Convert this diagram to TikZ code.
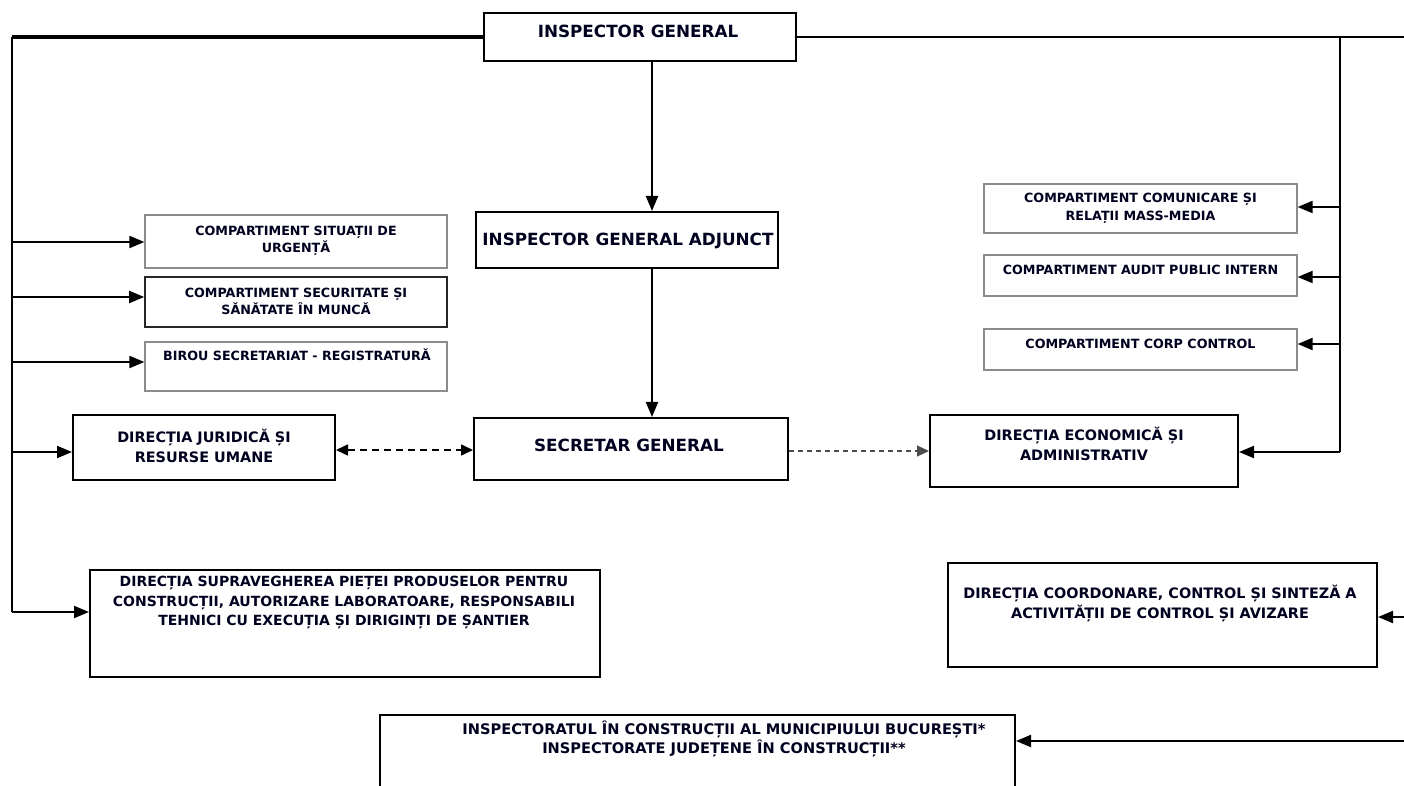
\documentclass[tikz,border=0pt]{standalone}
\usepackage{fontspec}
\setmainfont{DejaVu Sans}
\usetikzlibrary{arrows.meta}
\tikzset{
  bigbox/.style={draw=black, line width=1pt, fill=white, inner sep=0pt},
  midbox/.style={draw=black!85, line width=0.8pt, fill=white, inner sep=0pt},
  thinbox/.style={draw=black!45, line width=0.6pt, fill=white, inner sep=0pt},
  bigtxt/.style={font=\bfseries\fontsize{8.4}{10}\selectfont, text=black!88!blue, align=center, inner sep=0pt},
  midtxt/.style={font=\bfseries\fontsize{7.2}{10}\selectfont, text=black!88!blue, align=center, inner sep=0pt},
  suptxt/.style={font=\bfseries\fontsize{7.0}{9.75}\selectfont, text=black!88!blue, align=center, inner sep=0pt},
  smalltxt/.style={font=\bfseries\fontsize{6.35}{8.8}\selectfont, text=black!88!blue, align=center, inner sep=0pt},
  instxt/.style={font=\bfseries\fontsize{7.3}{9.5}\selectfont, text=black!88!blue, align=center, inner sep=0pt},
  conn/.style={line width=1pt, black},
  arr/.style={conn, -{Triangle[length=7.5pt,width=6pt]}},
  dasharr/.style={line width=0.8pt, black, dash pattern=on 3.5pt off 2.5pt, {Triangle[length=6pt,width=5.5pt]}-{Triangle[length=6pt,width=5.5pt]}},
  dotarr/.style={line width=0.6pt, black!70, dash pattern=on 2.5pt off 2pt, -{Triangle[length=6pt,width=5.5pt]}},
}
\begin{document}
\begin{tikzpicture}[x=0.5pt,y=-0.5pt]
\useasboundingbox (0,0) rectangle (1404,786);
\clip (0,0) rectangle (1404,786);
% boxes
\node[bigbox, minimum width=156pt, minimum height=24pt] (ig) at (640,37) {};
\node[bigtxt] (igt) at (638,31) {INSPECTOR GENERAL};
\node[bigbox, minimum width=151pt, minimum height=28pt] (iga) at (627,240) {};
\node[bigtxt] (igat) at (628,241) {INSPECTOR GENERAL ADJUNCT};
\node[bigbox, minimum width=157pt, minimum height=31pt] (sg) at (631,449) {};
\node[bigtxt] (sgt) at (629,445) {SECRETAR GENERAL};
\node[bigbox, minimum width=131pt, minimum height=32.5pt] (jur) at (204,447.5) {};
\node[midtxt] (jurt) at (204,446) {DIRECȚIA JURIDICĂ ȘI\\RESURSE UMANE};
\node[bigbox, minimum width=154pt, minimum height=36pt] (eco) at (1084,451) {};
\node[midtxt] (ecot) at (1084,443.5) {DIRECȚIA ECONOMICĂ ȘI\\ADMINISTRATIV};
\node[thinbox, minimum width=151pt, minimum height=26.5pt] (sit) at (296,241.5) {};
\node[smalltxt] (sitt) at (296,241) {COMPARTIMENT SITUAȚII DE\\URGENȚĂ};
\node[midbox, minimum width=151pt, minimum height=25pt] (sec) at (296,302) {};
\node[smalltxt] (sect) at (296,301.5) {COMPARTIMENT SECURITATE ȘI\\SĂNĂTATE ÎN MUNCĂ};
\node[thinbox, minimum width=151pt, minimum height=24.5pt] (bir) at (296,366.5) {};
\node[smalltxt] (birt) at (297,355) {BIROU SECRETARIAT - REGISTRATURĂ};
\node[thinbox, minimum width=156.5pt, minimum height=24.5pt] (com) at (1140.5,208.5) {};
\node[smalltxt] (comt) at (1140.5,208.5) {COMPARTIMENT COMUNICARE ȘI\\RELAȚII MASS-MEDIA};
\node[thinbox, minimum width=156.5pt, minimum height=20.5pt] (aud) at (1140.5,275.5) {};
\node[smalltxt] (audt) at (1140.5,270) {COMPARTIMENT AUDIT PUBLIC INTERN};
\node[thinbox, minimum width=156.5pt, minimum height=20.5pt] (cor) at (1140.5,349.5) {};
\node[smalltxt] (cort) at (1140.5,344) {COMPARTIMENT CORP CONTROL};
\node[bigbox, minimum width=255pt, minimum height=53.5pt] (sup) at (345,623.5) {};
\node[suptxt] (supt) at (344,602.5) {DIRECȚIA SUPRAVEGHEREA PIEȚEI PRODUSELOR PENTRU\\CONSTRUCȚII, AUTORIZARE LABORATOARE, RESPONSABILI\\TEHNICI CU EXECUȚIA ȘI DIRIGINȚI DE ȘANTIER};
\node[bigbox, minimum width=214.5pt, minimum height=52pt] (coo) at (1162.5,615) {};
\node[midtxt] (coot) at (1160,603) {DIRECȚIA COORDONARE, CONTROL ȘI SINTEZĂ A\\ACTIVITĂȚII DE CONTROL ȘI AVIZARE};
\node[bigbox, minimum width=317.5pt, minimum height=44pt] (ins) at (697.5,759) {};
\node[instxt] (inst) at (724,738.5) {INSPECTORATUL ÎN CONSTRUCȚII AL MUNICIPIULUI BUCUREȘTI*\\INSPECTORATE JUDEȚENE ÎN CONSTRUCȚII**};
% helper coordinates
\coordinate (lt) at (12,37);
\coordinate (lb) at (12,612);
\coordinate (rt) at (1404,37);
\coordinate (rv) at (1340,37);
\coordinate (rvb) at (1340,452);
\coordinate (axis) at (652,0);
\coordinate (rcoo) at (1404,617);
\coordinate (rins) at (1404,741);
% left trunk
\draw[line width=1.6pt] (ig.west |- lt) -- (lt);
\draw[conn] (lt) -- (lb);
\draw[arr] (lb) -- (sup.west |- lb);
\draw[arr] (lt |- 0,242) -- (sit.west |- 0,242);
\draw[arr] (lt |- 0,297) -- (sec.west |- 0,297);
\draw[arr] (lt |- 0,362) -- (bir.west |- 0,362);
\draw[arr] (lt |- 0,452) -- (jur.west |- 0,452);
% right trunk
\draw[conn] (ig.east |- rt) -- (rt);
\draw[conn] (rv) -- (rvb);
\draw[arr] (rvb) -- (eco.east |- rvb);
\draw[arr] (rv |- 0,207) -- (com.east |- 0,207);
\draw[arr] (rv |- 0,277) -- (aud.east |- 0,277);
\draw[arr] (rv |- 0,344) -- (cor.east |- 0,344);
\draw[arr] (rcoo) -- (coo.east |- rcoo);
\draw[arr] (rins) -- (ins.east |- rins);
% centre
\draw[arr] (ig.south -| axis) -- (iga.north -| axis);
\draw[arr] (iga.south -| axis) -- (sg.north -| axis);
\draw[dasharr] (jur.east |- 0,450) -- (sg.west |- 0,450);
\draw[dotarr] (sg.east |- 0,451) -- (eco.west |- 0,451);
\end{tikzpicture}
\end{document}
